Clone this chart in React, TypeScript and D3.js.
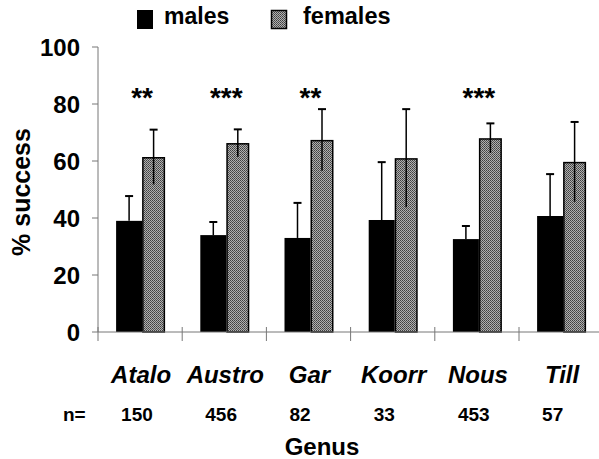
import React from "react";
import * as d3 from "d3";

const genera = ["Atalo", "Austro", "Gar", "Koorr", "Nous", "Till"];
const nValues = ["150", "456", "82", "33", "453", "57"];
const malesMean = [39, 34, 33, 39.3, 32.6, 40.7];
const malesErr = [8.7, 4.6, 12.3, 20.3, 4.6, 14.7];
const femalesMean = [61.4, 66.3, 67.4, 61, 68, 59.7];
const femalesErr = [9.6, 4.8, 10.8, 17.2, 5.2, 14];
const signif = ["**", "***", "**", "", "***", ""];
const yTicks = [0, 20, 40, 60, 80, 100];

const W = 599;
const H = 459;
const FONT = "Arial, 'Liberation Sans', sans-serif";

export default function App() {
  const x = d3.scaleBand<string>().domain(genera).range([98, 603.2]).padding(0);
  const y = d3.scaleLinear().domain([0, 100]).range([332, 47]);
  const bw = x.bandwidth();
  const boundaries = genera.map((g) => x(g) as number);
  const axisGray = "#777";

  return (
    <svg width={W} height={H} style={{ position: "absolute", left: 0, top: 0, background: "#fff" }} fontFamily={FONT}>
      <defs>
        <pattern id="checker" width="2" height="2" patternUnits="userSpaceOnUse">
          <rect x="0" y="0" width="2" height="2" fill="#b0b0b0" />
          <rect x="0" y="0" width="1" height="1" fill="#404040" />
          <rect x="1" y="1" width="1" height="1" fill="#555" />
        </pattern>
      </defs>

      {/* Legend */}
      <rect x={137} y={10} width={16} height={19} fill="#000" />
      <text x={164} y={24} fontSize={23} fontWeight="bold">males</text>
      <rect x={271.5} y={10.5} width={15} height={18} fill="url(#checker)" stroke="#000" strokeWidth={1.5} />
      <text x={303} y={24} fontSize={23.5} fontWeight="bold">females</text>

      {/* Y axis */}
      <line x1={98} x2={98} y1={y(100)} y2={y(0)} stroke={axisGray} strokeWidth={1} />
      {yTicks.map((t) => (
        <g key={t}>
          <line x1={92} x2={98} y1={y(t)} y2={y(t)} stroke={axisGray} strokeWidth={1} />
          <text x={80} y={y(t) + 8.5} fontSize={24} fontWeight="bold" textAnchor="end">{t}</text>
        </g>
      ))}
      <text transform={`translate(30,192) rotate(-90)`} fontSize={25} fontWeight="bold" textAnchor="middle">% success</text>

      {/* Bars */}
      {genera.map((g, i) => {
        const split = (x(g) as number) + bw / 2 + 2;
        const mx = split - 26;
        const fx = split;
        const mc = mx + 13;
        const fc = fx + 11.5;
        return (
          <g key={g}>
            <rect x={mx} y={y(malesMean[i])} width={26} height={y(0) - y(malesMean[i])} fill="#000" />
            <rect x={fx + 0.75} y={y(femalesMean[i]) + 0.75} width={21.5} height={y(0) - y(femalesMean[i]) - 0.75} fill="url(#checker)" stroke="#000" strokeWidth={1.5} />
            <line x1={mc} x2={mc} y1={y(malesMean[i])} y2={y(malesMean[i] + malesErr[i])} stroke="#000" strokeWidth={1.5} />
            <line x1={mc - 4} x2={mc + 4} y1={y(malesMean[i] + malesErr[i])} y2={y(malesMean[i] + malesErr[i])} stroke="#000" strokeWidth={2} />
            <line x1={fc} x2={fc} y1={y(femalesMean[i] - femalesErr[i])} y2={y(femalesMean[i] + femalesErr[i])} stroke="#000" strokeWidth={1.5} />
            <line x1={fc - 4} x2={fc + 4} y1={y(femalesMean[i] + femalesErr[i])} y2={y(femalesMean[i] + femalesErr[i])} stroke="#000" strokeWidth={2} />
            {signif[i] && (
              <text x={split} y={107} fontSize={28} fontWeight="bold" textAnchor="middle">{signif[i]}</text>
            )}
          </g>
        );
      })}

      {/* X axis */}
      <line x1={98} x2={599} y1={y(0)} y2={y(0)} stroke={axisGray} strokeWidth={1} />
      {boundaries.map((b, i) => (
        <line key={i} x1={b} x2={b} y1={327} y2={341} stroke={axisGray} strokeWidth={1} />
      ))}

      {/* Category labels */}
      {genera.map((g) => (
        <text key={g} x={(x(g) as number) + bw / 2 + 1} y={383} fontSize={24} fontWeight="bold" fontStyle="italic" textAnchor="middle">{g}</text>
      ))}
      <text x={63} y={421} fontSize={19} fontWeight="bold">n=</text>
      {genera.map((g, i) => (
        <text key={g} x={(x(g) as number) + bw / 2 - 19} y={421} fontSize={19} fontWeight="bold">{nValues[i]}</text>
      ))}
      <text x={322} y={455} fontSize={24} fontWeight="bold" textAnchor="middle">Genus</text>
    </svg>
  );
}
